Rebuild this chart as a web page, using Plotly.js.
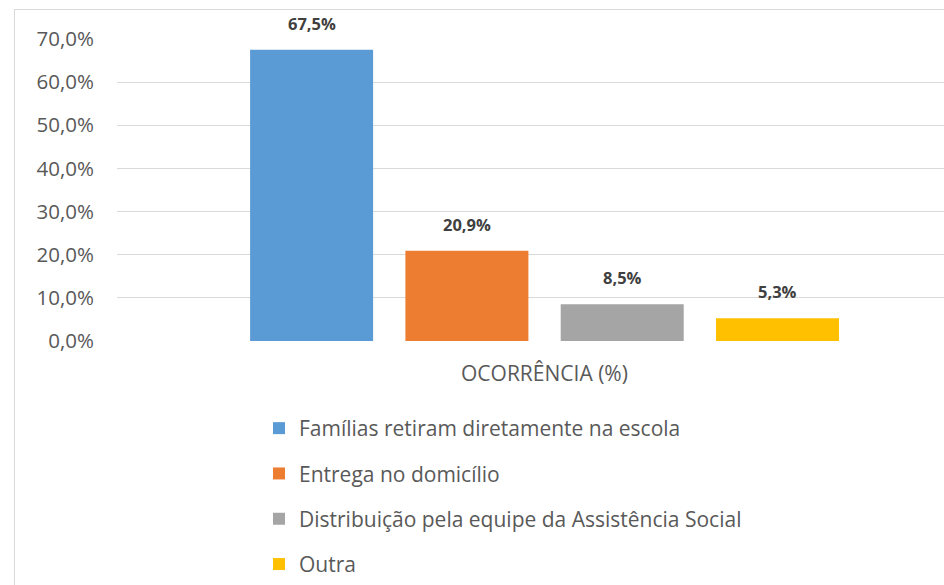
<!DOCTYPE html>
<html><head><meta charset="utf-8">
<script src="https://cdn.plot.ly/plotly-3.0.1.min.js"></script>
<style>
html,body{margin:0;padding:0;background:#fff;}
#wrap{position:relative;width:944px;height:585px;overflow:hidden;}
#frame{position:absolute;left:14px;top:9px;width:1000px;height:700px;border-left:1.5px solid #d9d9d9;border-top:1.5px solid #d9d9d9;}
#chart{position:absolute;left:0;top:0;width:944px;height:585px;}
</style></head>
<body><div id="wrap"><div id="frame"></div><div id="chart"></div></div>
<script>
const categoryLabel = "OCORRÊNCIA (%)";
const seriesNames = ["Famílias retiram diretamente na escola","Entrega no domicílio","Distribuição pela equipe da Assistência Social","Outra"];
const seriesValues = [67.5, 20.9, 8.5, 5.3];
const seriesColors = ["#5B9BD5","#ED7D31","#A5A5A5","#FFC000"];
const yTicks = [0,10,20,30,40,50,60,70];
const yTickLabels = ["0,0%","10,0%","20,0%","30,0%","40,0%","50,0%","60,0%","70,0%"];

const FONT = "'Open Sans', Lato, sans-serif";
const fmt = v => v.toFixed(1).replace('.', ',') + '%';

const traces = seriesNames.map((n,i)=>({
  type:'bar', name:n, x:[i], y:[seriesValues[i]],
  marker:{color:seriesColors[i]},
  legendgroup:'g'+i, hoverinfo:'skip'
}));

const annotations = seriesNames.map((n,i)=>({
  xref:'x', yref:'y', x:i, y:seriesValues[i], text:'<b>'+fmt(seriesValues[i])+'</b>',
  showarrow:false, yanchor:'bottom', yshift:13,
  font:{family:FONT, size:16.5, color:'#404040'}
}));
annotations.push({
  xref:'x', yref:'paper', x:(seriesNames.length-1)/2, y:0, yanchor:'top', yshift:-16,
  text:categoryLabel, showarrow:false, font:{family:FONT, size:21, color:'#595959'}
});

const layout = {
  width:944, height:585,
  margin:{l:117, r:0, t:39, b:244, autoexpand:false},
  paper_bgcolor:'rgba(0,0,0,0)', plot_bgcolor:'rgba(0,0,0,0)',
  barmode:'overlay', bargap:0.208,
  font:{family:FONT, color:'#595959', size:20},
  xaxis:{range:[-1.253,4.072], showgrid:false, zeroline:false, showline:false, ticks:'', showticklabels:false},
  yaxis:{range:[0,70], tickvals:yTicks, ticktext:yTickLabels, showgrid:true,
    gridcolor:'#d9d9d9', gridwidth:1.2, zeroline:false, showline:false, ticks:'',
    tickfont:{size:20.5, color:'#595959'}, ticklabelstandoff:22},
  annotations:annotations,
  showlegend:true,
  legend:{orientation:'v', x:(259-117)/827, xanchor:'left', y:(341-408)/302, yanchor:'top',
    font:{size:21, color:'#595959'}, tracegroupgap:15, traceorder:'grouped', bgcolor:'rgba(0,0,0,0)'}
};
Plotly.newPlot('chart', traces, layout, {displayModeBar:false, staticPlot:true});
</script></body></html>
